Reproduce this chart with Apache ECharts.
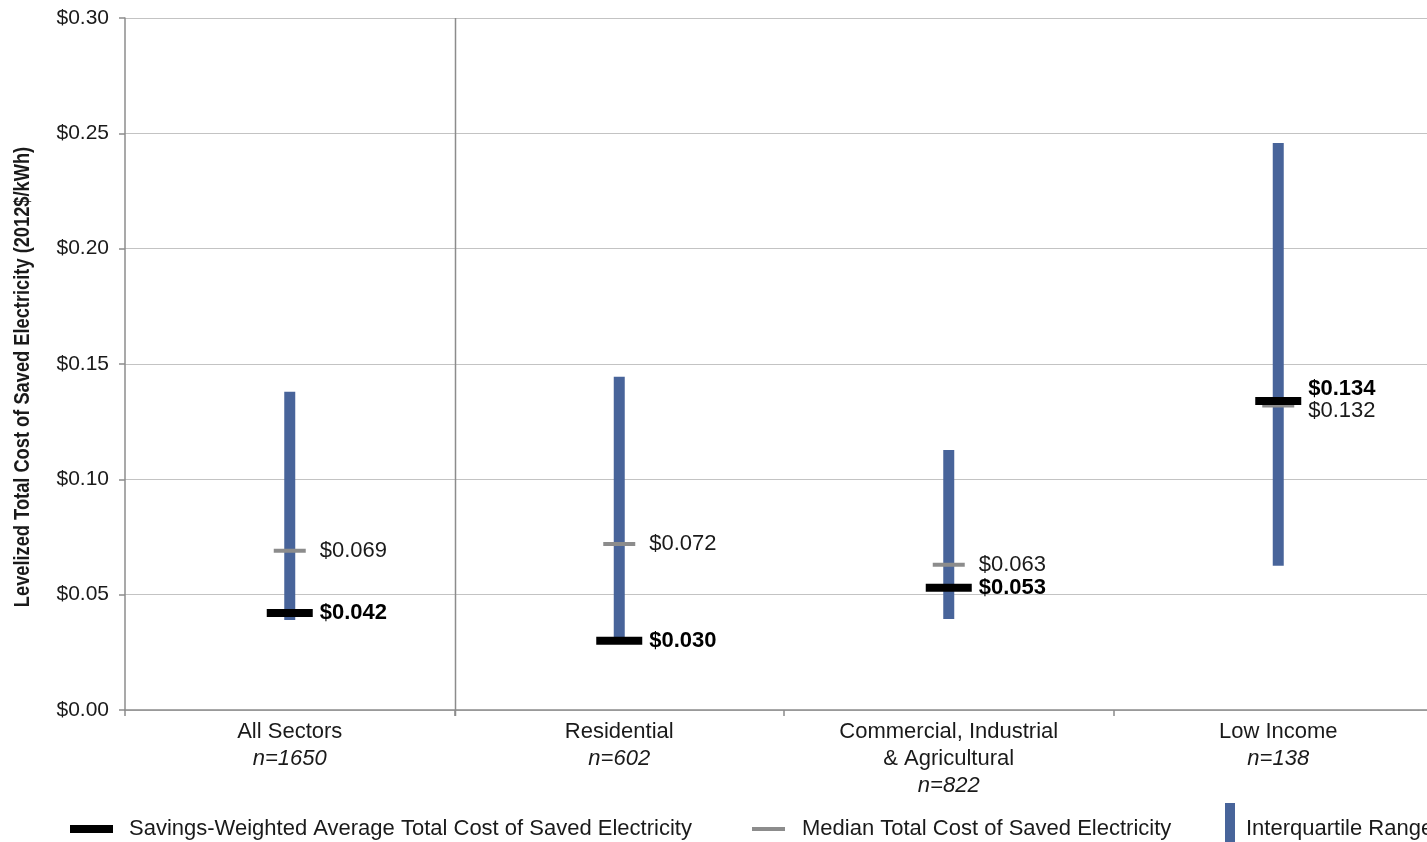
<!DOCTYPE html>
<html><head><meta charset="utf-8">
<script src="https://cdn.jsdelivr.net/npm/echarts@6/dist/echarts.min.js"></script>
<style>html,body{margin:0;padding:0;background:#fff}#c{width:1427px;height:842px}</style>
</head><body><div id="c"></div>
<script>
const categories = ['All Sectors', 'Residential', 'Commercial, Industrial\n& Agricultural', 'Low Income'];
const sampleSizes = ['n=1650', 'n=602', 'n=822', 'n=138'];
const iqrLow = [0.039, 0.029, 0.0395, 0.0625];
const iqrHigh = [0.138, 0.1445, 0.1127, 0.2458];
const medianValues = [0.069, 0.072, 0.063, 0.132];
const averageValues = [0.042, 0.030, 0.053, 0.134];
const yTicks = [0, 0.05, 0.10, 0.15, 0.20, 0.25, 0.30];
const yAxisTitle = 'Levelized Total Cost of Saved Electricity (2012$/kWh)';

const FONT = 'Arial, "Liberation Sans", sans-serif';
const FS = 22;
const IQR_COLOR = '#48649A';
// label vertical nudges where labels would collide (low income)
const avgLabelNudge = [0, 0, 0, -12];
const medLabelNudge = [0, 0, 0, 5];

const chart = echarts.init(document.getElementById('c'));
const catLabels = categories.map((c, i) => c + '\n{n|' + sampleSizes[i] + '}');

chart.setOption({
  animation: false,
  grid: { left: 125, top: 18, width: 1318, bottom: 132, outerBoundsMode: 'none', containLabel: false },
  graphic: [{
    type: 'text',
    x: 23, y: 377,
    rotation: Math.PI / 2,
    scaleX: 0.83,
    style: {
      text: yAxisTitle,
      font: 'bold 22px "Liberation Sans", Arial, sans-serif',
      fill: '#1a1a1a',
      align: 'center',
      verticalAlign: 'middle'
    }
  }],
  xAxis: {
    type: 'category',
    data: catLabels,
    boundaryGap: true,
    axisLine: { lineStyle: { color: '#8c8c8c', width: 1.5 } },
    axisTick: { show: true, alignWithLabel: false, length: 6, lineStyle: { color: '#8c8c8c', width: 1.5 } },
    axisLabel: {
      interval: 0, margin: 8, color: '#1a1a1a', fontFamily: FONT, fontSize: FS, lineHeight: 27,
      rich: { n: { fontStyle: 'italic', fontFamily: FONT, fontSize: FS, lineHeight: 27, color: '#1a1a1a' } }
    },
    splitLine: { show: false }
  },
  yAxis: {
    type: 'value', min: 0, max: 0.30, interval: 0.05,
    axisLine: { show: true, lineStyle: { color: '#8c8c8c', width: 1.5 } },
    axisTick: { show: true, length: 6, lineStyle: { color: '#8c8c8c', width: 1.5 } },
    axisLabel: { margin: 16, color: '#1a1a1a', fontFamily: FONT, fontSize: 21,
      formatter: v => '$' + (yTicks.find(t => Math.abs(t - v) < 1e-9) ?? v).toFixed(2) },
    splitLine: { lineStyle: { color: '#c3c3c3', width: 1.2 } }
  },
  legend: [
    { data: [{ name: 'Savings-Weighted Average Total Cost of Saved Electricity', icon: 'rect' }],
      left: 70, top: 818, padding: 0, itemWidth: 43, itemHeight: 8,
      textStyle: { fontFamily: FONT, fontSize: FS, color: '#1a1a1a', padding: [0, 0, 0, 11] } },
    { data: [{ name: 'Median Total Cost of Saved Electricity', icon: 'rect' }],
      left: 752, top: 818, padding: 0, itemWidth: 33, itemHeight: 4,
      textStyle: { fontFamily: FONT, fontSize: FS, color: '#1a1a1a', padding: [0, 0, 0, 12] } },
    { data: [{ name: 'Interquartile Range', icon: 'path://M0,0L10,0L10,39L0,39ZM0,51L0.01,51L0.01,51.01Z' }],
      left: 1225, top: 803, padding: 0, itemWidth: 10, itemHeight: 51,
      textStyle: { fontFamily: FONT, fontSize: FS, color: '#1a1a1a', padding: [0, 0, 0, 6] } }
  ],
  series: [
    {
      name: 'Interquartile Range',
      type: 'custom',
      itemStyle: { color: IQR_COLOR },
      z: 2,
      data: iqrLow.map((v, i) => [i, v, iqrHigh[i]]),
      encode: { x: 0, y: [1, 2] },
      renderItem: function (params, api) {
        const lo = api.coord([api.value(0), api.value(1)]);
        const hi = api.coord([api.value(0), api.value(2)]);
        const children = [{
          type: 'rect',
          shape: { x: lo[0] - 5.5, y: hi[1], width: 11, height: lo[1] - hi[1] },
          style: { fill: IQR_COLOR }
        }];
        if (params.dataIndex === 0) {
          const bw = api.size([1, 0])[0];
          const cs = params.coordSys;
          const sx = Math.round(lo[0] + bw / 2) + 0.5;
          children.push({
            type: 'line', z2: -1,
            shape: { x1: sx, y1: cs.y, x2: sx, y2: cs.y + cs.height + 6 },
            style: { stroke: '#8c8c8c', lineWidth: 1.5 }
          });
        }
        return { type: 'group', children: children };
      }
    },
    {
      name: 'Median Total Cost of Saved Electricity',
      type: 'scatter',
      symbol: 'rect', symbolSize: [32, 4],
      itemStyle: { color: '#8c8c8c', opacity: 1 },
      z: 3,
      data: medianValues.map((v, i) => ({
        value: [i, v],
        label: { offset: [0, medLabelNudge[i]] }
      })),
      label: {
        show: true, position: 'right', distance: 14,
        formatter: p => '$' + p.value[1].toFixed(3),
        fontFamily: FONT, fontSize: FS, color: '#1a1a1a'
      }
    },
    {
      name: 'Savings-Weighted Average Total Cost of Saved Electricity',
      type: 'scatter',
      symbol: 'rect', symbolSize: [46, 8],
      itemStyle: { color: '#000000', opacity: 1 },
      z: 4,
      data: averageValues.map((v, i) => ({
        value: [i, v],
        label: { offset: [0, avgLabelNudge[i]] }
      })),
      label: {
        show: true, position: 'right', distance: 7,
        formatter: p => '$' + p.value[1].toFixed(3),
        fontFamily: FONT, fontSize: FS, fontWeight: 'bold', color: '#000000'
      }
    }
  ]
});
</script>
</body></html>
